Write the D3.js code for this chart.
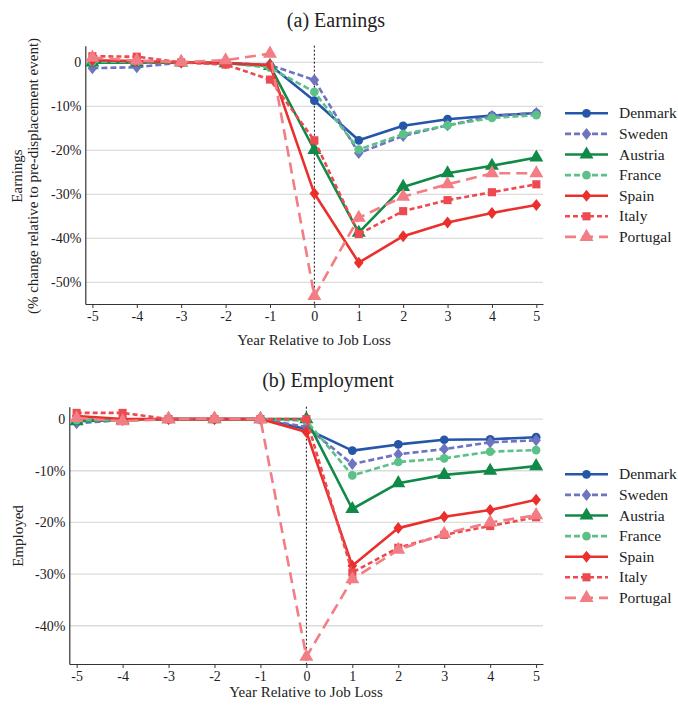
<!DOCTYPE html>
<html>
<head>
<meta charset="utf-8">
<script src="https://cdn.jsdelivr.net/npm/d3@7"></script>
<style>
  html, body { margin: 0; padding: 0; background: #fff; }
  svg text { font-family: "Liberation Serif", "DejaVu Serif", serif; fill: #222; }
</style>
</head>
<body>
<svg id="chart" width="678" height="708"></svg>
<script>
// ---------- DATA ----------
const years = [-5, -4, -3, -2, -1, 0, 1, 2, 3, 4, 5];
const countries = ["Denmark", "Sweden", "Austria", "France", "Spain", "Italy", "Portugal"];

// (a) Earnings, % change relative to pre-displacement event
const earnDenmark  = [0.0, 0.0, 0.0, -0.2, -0.6, -8.7, -17.7, -14.4, -12.9, -12.1, -11.5];
const earnSweden   = [-1.3, -1.1, 0.0, -0.1, -0.6, -4.0, -20.6, -16.7, -14.3, -12.2, -11.5];
const earnAustria  = [0.0, 0.0, 0.0, -0.2, -0.8, -19.9, -38.7, -28.3, -25.2, -23.5, -21.6];
const earnFrance   = [0.2, 0.1, 0.0, -0.1, -1.2, -6.7, -19.8, -16.3, -14.3, -12.6, -12.0];
const earnSpain    = [0.5, 0.3, 0.0, -0.2, -0.6, -29.8, -45.5, -39.5, -36.4, -34.2, -32.4];
const earnItaly    = [1.4, 1.3, 0.0, -0.5, -3.9, -17.7, -39.0, -33.8, -31.3, -29.5, -27.7];
const earnPortugal = [1.1, 0.4, 0.1, 0.5, 2.0, -53.1, -35.3, -30.5, -27.7, -25.2, -25.2];

// (b) Employment, % change
const empDenmark  = [-0.2, -0.1, 0.0, 0.0, 0.0, -1.9, -6.1, -4.9, -4.0, -3.9, -3.5];
const empSweden   = [-0.8, -0.2, 0.0, 0.0, 0.0, -1.5, -8.7, -6.8, -5.8, -4.5, -4.1];
const empAustria  = [-0.4, -0.2, 0.0, 0.0, 0.0, 0.0, -17.4, -12.4, -10.8, -10.0, -9.1];
const empFrance   = [-0.2, -0.2, 0.0, 0.0, 0.0, -0.3, -10.9, -8.3, -7.6, -6.3, -6.0];
const empSpain    = [0.6, 0.0, 0.0, 0.0, 0.0, -2.5, -28.4, -21.1, -18.9, -17.6, -15.6];
const empItaly    = [1.2, 1.2, 0.0, 0.0, 0.0, 0.0, -29.7, -24.9, -22.4, -20.7, -19.0];
const empPortugal = [0.2, -0.4, 0.0, 0.1, 0.0, -46.0, -31.0, -25.3, -22.2, -20.0, -18.6];

const earnTicks = [0, -10, -20, -30, -40, -50];
const empTicks = [0, -10, -20, -30, -40];
const xTicks = [-5, -4, -3, -2, -1, 0, 1, 2, 3, 4, 5];

// ---------- STYLES ----------
const styles = {
  Denmark:  { color: "#2556a8", dash: null,   marker: "circle" },
  Sweden:   { color: "#6e74c0", dash: "6,3",  marker: "diamond" },
  Austria:  { color: "#0f8a47", dash: null,   marker: "triangle" },
  France:   { color: "#5cc089", dash: "6,3",  marker: "circle" },
  Spain:    { color: "#e9302c", dash: null,   marker: "diamond" },
  Italy:    { color: "#ec4a50", dash: "5,3",  marker: "square" },
  Portugal: { color: "#f27d84", dash: "11,6", marker: "triangle" }
};

const svg = d3.select("#chart");

function markerPath(type) {
  if (type === "circle") return d3.symbol().type(d3.symbolCircle).size(60)();
  if (type === "diamond") return "M0,-6L4.8,0L0,6L-4.8,0Z";
  if (type === "triangle") return d3.symbol().type(d3.symbolTriangle).size(85)();
  if (type === "square") return d3.symbol().type(d3.symbolSquare).size(66)();
}

function drawPanel(cfg) {
  const g = svg.append("g");
  const x = d3.scaleLinear().domain([-5.16, 5.15]).range([cfg.left, 543]);
  const y = d3.scaleLinear().domain(cfg.yDomain).range([cfg.bottom, cfg.top]);

  // title
  g.append("text").attr("x", cfg.titleX).attr("y", cfg.titleY)
    .attr("text-anchor", "middle").style("font-size", "20px").text(cfg.title);

  // gridlines
  g.selectAll(".grid").data(cfg.yTicks).enter().append("line")
    .attr("x1", cfg.left).attr("x2", 543)
    .attr("y1", d => y(d)).attr("y2", d => y(d))
    .attr("stroke", "#dcdcdc").attr("stroke-width", 1.3);

  // y axis
  const yAxis = d3.axisLeft(y).tickValues(cfg.yTicks).tickSize(0).tickPadding(4)
    .tickFormat(d => d === 0 ? "0" : d + "%");
  const ya = g.append("g").attr("transform", `translate(${cfg.left},0)`).call(yAxis);
  ya.select(".domain").attr("stroke", "#333").attr("stroke-width", 1.2);
  ya.selectAll("text").style("font-size", "14px").style("font-family", "Liberation Serif, serif").attr("fill", "#222");

  // x axis
  const xAxis = d3.axisBottom(x).tickValues(xTicks).tickSize(4).tickSizeOuter(0).tickPadding(3)
    .tickFormat(d => String(d));
  const xa = g.append("g").attr("transform", `translate(0,${cfg.bottom})`).call(xAxis);
  xa.select(".domain").attr("stroke", "#333").attr("stroke-width", 1.2);
  xa.selectAll(".tick line").attr("stroke", "#333");
  xa.selectAll("text").style("font-size", "14px").style("font-family", "Liberation Serif, serif").attr("fill", "#222");

  // vertical dotted line at 0
  g.append("line").attr("x1", x(0)).attr("x2", x(0))
    .attr("y1", cfg.top).attr("y2", cfg.bottom)
    .attr("stroke", "#111").attr("stroke-width", 1).attr("stroke-dasharray", "2,2");

  // x label
  g.append("text").attr("x", cfg.xLabelX).attr("y", cfg.xLabelY)
    .attr("text-anchor", "middle").style("font-size", "15px").text("Year Relative to Job Loss");

  // y label
  const yl = g.append("text").attr("transform", `translate(${cfg.yLabelX},${cfg.yLabelY}) rotate(-90)`)
    .attr("text-anchor", "middle").style("font-size", "15px");
  cfg.yLabel.forEach((t, i) => {
    yl.append("tspan").attr("x", 0).attr("dy", i === 0 ? 0 : 15.5).text(t);
  });

  // series
  const line = d3.line().x((d, i) => x(years[i])).y(d => y(d));
  countries.forEach(c => {
    const st = styles[c];
    const vals = cfg.series[c];
    g.append("path").datum(vals).attr("d", line)
      .attr("fill", "none").attr("stroke", st.color).attr("stroke-width", 2.6)
      .attr("stroke-dasharray", st.dash).attr("stroke-linejoin", "round");
    g.selectAll(null).data(vals).enter().append("path")
      .attr("d", markerPath(st.marker))
      .attr("transform", (d, i) => `translate(${x(years[i])},${y(d)})`)
      .attr("fill", st.color);
  });

  // legend
  const lg = g.append("g");
  countries.forEach((c, i) => {
    const st = styles[c];
    const yy = cfg.legendY + i * 20.6;
    lg.append("line").attr("x1", 565).attr("x2", 608).attr("y1", yy).attr("y2", yy)
      .attr("stroke", st.color).attr("stroke-width", 2.6).attr("stroke-dasharray", st.dash);
    lg.append("path").attr("d", markerPath(st.marker))
      .attr("transform", `translate(586.5,${yy})`).attr("fill", st.color);
    lg.append("text").attr("x", 619).attr("y", yy + 5).style("font-size", "15.5px").text(c);
  });
}

drawPanel({
  title: "(a) Earnings", titleX: 336, titleY: 27,
  left: 85.3, top: 45.7, bottom: 304, yDomain: [-54.9, 3.8], yTicks: earnTicks,
  xLabelX: 314, xLabelY: 345,
  yLabel: ["Earnings", "(% change relative to pre-displacement event)"], yLabelX: 22, yLabelY: 176,
  legendY: 113.3,
  series: { Denmark: earnDenmark, Sweden: earnSweden, Austria: earnAustria, France: earnFrance,
            Spain: earnSpain, Italy: earnItaly, Portugal: earnPortugal }
});

drawPanel({
  title: "(b) Employment", titleX: 328, titleY: 387,
  left: 69.3, top: 406.7, bottom: 664, yDomain: [-47.4, 2.4], yTicks: empTicks,
  xLabelX: 306, xLabelY: 697,
  yLabel: ["Employed"], yLabelX: 23, yLabelY: 536,
  legendY: 474.3,
  series: { Denmark: empDenmark, Sweden: empSweden, Austria: empAustria, France: empFrance,
            Spain: empSpain, Italy: empItaly, Portugal: empPortugal }
});
</script>
</body>
</html>
